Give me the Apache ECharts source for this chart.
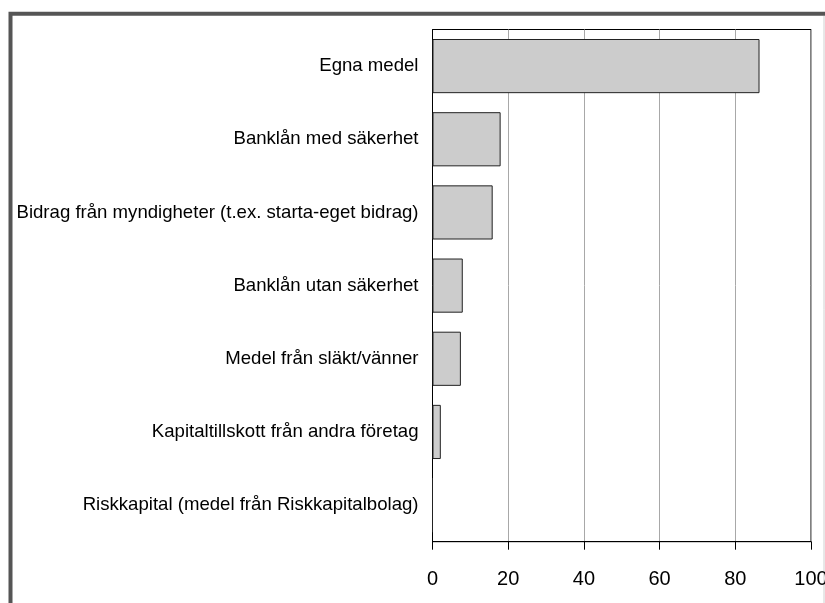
<!DOCTYPE html>
<html>
<head>
<meta charset="utf-8">
<script src="https://cdn.jsdelivr.net/npm/echarts@6/dist/echarts.min.js"></script>
<style>
  html, body { margin: 0; padding: 0; background: #fff; }
  #main { width: 825px; height: 603px; }
</style>
</head>
<body>
<div id="main"></div>
<script>
// kategorier (uppifrån och ned)
var categories = [
  'Egna medel',
  'Banklån med säkerhet',
  'Bidrag från myndigheter (t.ex. starta-eget bidrag)',
  'Banklån utan säkerhet',
  'Medel från släkt/vänner',
  'Kapitaltillskott från andra företag',
  'Riskkapital (medel från Riskkapitalbolag)'
];
var values = [86.4, 18.0, 15.9, 8.0, 7.5, 2.2, 0];
var xTicks = [0, 20, 40, 60, 80, 100];

var font = '"Liberation Sans", Arial, sans-serif';

var myChart = echarts.init(document.getElementById('main'));
var option = {
  animation: false,
  backgroundColor: '#fff',
  graphic: [
    {
      type: 'rect',
      shape: { x: 10.5, y: 13.7, width: 900, height: 700 },
      style: { fill: 'none', stroke: '#555', lineWidth: 4 },
      silent: true
    },
    {
      type: 'line',
      shape: { x1: 824, y1: 16, x2: 824, y2: 603 },
      style: { stroke: '#d0d0d0', lineWidth: 1 },
      silent: true
    }
  ],
  grid: {
    left: 432.5,
    right: 14,
    top: 29.5,
    bottom: 61.3,
    outerBoundsMode: 'none',
    containLabel: false,
    show: true,
    borderColor: '#000',
    borderWidth: 1,
    backgroundColor: 'transparent'
  },
  xAxis: {
    type: 'value',
    min: xTicks[0],
    max: xTicks[xTicks.length - 1],
    interval: 20,
    axisLine: { show: true, lineStyle: { color: '#000', width: 1 } },
    axisTick: { show: true, length: 8, lineStyle: { color: '#000' } },
    axisLabel: { color: '#000', fontFamily: font, fontSize: 20, margin: 28, hideOverlap: false },
    splitLine: { show: true, lineStyle: { color: '#a8a8a8', width: 1 } }
  },
  yAxis: {
    type: 'category',
    inverse: true,
    data: categories,
    axisLine: { show: true, lineStyle: { color: '#000', width: 1 } },
    axisTick: { show: false },
    axisLabel: { color: '#000', fontFamily: font, fontSize: 18.6, margin: 14, interval: 0 },
    splitLine: { show: false }
  },
  series: [
    {
      type: 'bar',
      data: values,
      barCategoryGap: '26%',
      itemStyle: { color: '#cccccc', borderColor: '#222', borderWidth: 1 },
      emphasis: { disabled: true }
    }
  ]
};
option && myChart.setOption(option);
</script>
</body>
</html>
